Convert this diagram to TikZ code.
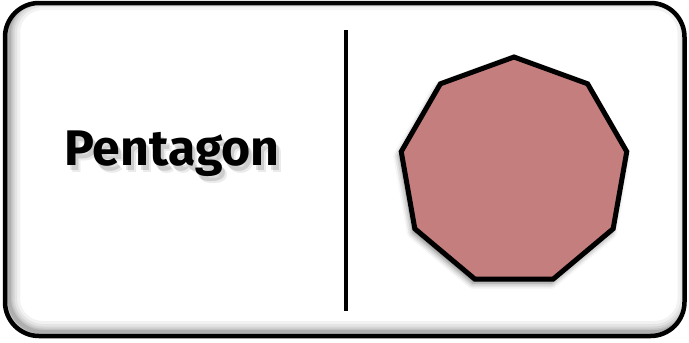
\documentclass[tikz,border=0pt]{standalone}
\usepackage{fontspec}
\setmainfont{Fira Sans}
\usetikzlibrary{shapes.geometric,shadows.blur}
\definecolor{rose}{RGB}{196,126,126}
\tikzset{
  framebox/.style={draw=black, line width=4.5pt, rounded corners=34pt},
  divider/.style={draw=black, line width=4pt},
  nonagon/.style={regular polygon, regular polygon sides=9, minimum size=229pt, inner sep=0pt,
    draw=black, line width=5pt, fill=rose,
    blur shadow={shadow xshift=-2pt, shadow yshift=-4pt, shadow blur radius=6pt, shadow opacity=55}},
  title/.style={font=\bfseries\fontsize{50}{55}\selectfont, inner sep=0pt, anchor=base},
}
\begin{document}
\begin{tikzpicture}[x=1pt,y=-1pt]
\useasboundingbox (0,0) rectangle (689,343);
% inner shadow of the frame
\begin{scope}
  \clip[rounded corners=34pt] (5,3) rectangle (684.5,336);
  \foreach \w/\o in {22/0.05,16/0.06,11/0.07,7/0.08,4/0.1} {
    \draw[line width=\w pt, black, opacity=\o, rounded corners=34pt] (9,-1) rectangle (688.5,332);
  }
\end{scope}
\path[framebox] (5,3) rectangle (684.5,336);
\coordinate (ltop) at (346,30);
\coordinate (lbot) at (346,311);
\draw[divider] (ltop) -- (lbot);
% text shadow
\foreach \dx/\dy/\o in {3/5/0.13,5/7/0.08} {
  \node[title, text=black, opacity=\o] at (172+\dx,165+\dy) {Pentagon};
}
\node[title] (label) at (172,165) {Pentagon};
\node[nonagon] (shape) at (514,171.5) {};
\end{tikzpicture}
\end{document}
